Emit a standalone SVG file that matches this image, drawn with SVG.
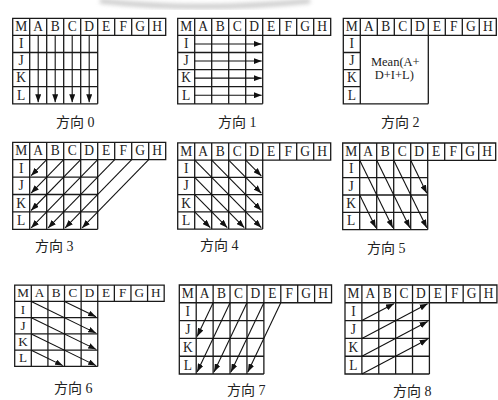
<svg xmlns="http://www.w3.org/2000/svg" xmlns:xlink="http://www.w3.org/1999/xlink" width="498" height="400" viewBox="0 0 498 400">
<style>
.grid{fill:none;stroke:#1a1a1a;stroke-width:1.3}
.lbl{font-family:"Liberation Serif","Noto Sans CJK SC",serif;font-size:13.5px;fill:#222;text-anchor:middle}
.cap{font-family:"Liberation Serif","Noto Sans CJK SC",serif;font-size:14px;fill:#222}
.mean{font-family:"Liberation Serif",serif;font-size:12.5px;fill:#222;text-anchor:middle}
.arr{fill:none;stroke:#111;stroke-width:1.1;marker-end:url(#ah)}
</style>
<defs>
<marker id="ah" viewBox="0 0 8 6" refX="8" refY="3" markerWidth="8" markerHeight="6" markerUnits="userSpaceOnUse" orient="auto">
<path d="M0,0L8,3L0,6Z" fill="#111"/>
</marker>
<filter id="blur" x="-20%" y="-50%" width="140%" height="200%"><feGaussianBlur stdDeviation="2"/></filter>
<path id="frame" d="M0,0H153V17H0Z M17,0V85 M34,0V17 M51,0V17 M68,0V17 M85,0V85 M102,0V17 M119,0V17 M136,0V17 M0,17V85H85 M0,34H17 M0,51H17 M0,68H17"/>
<path id="inner" d="M34,17V85 M51,17V85 M68,17V85 M17,34H85 M17,51H85 M17,68H85"/>
</defs>
<rect width="498" height="400" fill="#fff"/>
<path d="M100,1 Q200,12 310,1" fill="none" stroke="#aaa" stroke-width="5" opacity="0.6" filter="url(#blur)"/>

<g id="mode0">
<g transform="translate(12.7,18.3) scale(1,1.006)">
<use href="#frame" class="grid"/><use href="#inner" class="grid"/>
<text class="lbl" x="8.5 25.5 42.5 59.5 76.5 93.5 110.5 127.5 144.5" y="12.8">MABCDEFGH</text>
<text class="lbl" x="8.5 8.5 8.5 8.5" y="29.8 46.8 63.8 80.8">IJKL</text>
<g class="connectors">
<path class="arr" d="M25.5,17V83.5"/><path class="arr" d="M42.5,17V83.5"/><path class="arr" d="M59.5,17V83.5"/><path class="arr" d="M76.5,17V83.5"/>
</g>
</g>
<text class="cap" x="56" y="127">方向 0</text>
</g>

<g id="mode1">
<g transform="translate(177.7,18.3) scale(1,1.006)">
<use href="#frame" class="grid"/><use href="#inner" class="grid"/>
<text class="lbl" x="8.5 25.5 42.5 59.5 76.5 93.5 110.5 127.5 144.5" y="12.8">MABCDEFGH</text>
<text class="lbl" x="8.5 8.5 8.5 8.5" y="29.8 46.8 63.8 80.8">IJKL</text>
<g class="connectors">
<path class="arr" d="M17,25.5H84"/><path class="arr" d="M17,42.5H84"/><path class="arr" d="M17,59.5H84"/><path class="arr" d="M17,76.5H84"/>
</g>
</g>
<text class="cap" x="218" y="127">方向 1</text>
</g>

<g id="mode2">
<g transform="translate(343.3,18.3) scale(1,1.006)">
<use href="#frame" class="grid"/>
<text class="lbl" x="8.5 25.5 42.5 59.5 76.5 93.5 110.5 127.5 144.5" y="12.8">MABCDEFGH</text>
<text class="lbl" x="8.5 8.5 8.5 8.5" y="29.8 46.8 63.8 80.8">IJKL</text>
<text class="mean" x="52" y="47.5">Mean(A+</text>
<text class="mean" x="51" y="60">D+I+L)</text>
</g>
<text class="cap" x="381" y="127">方向 2</text>
</g>

<g id="mode3">
<g transform="translate(12.7,142.3) scale(1,1.024)">
<use href="#frame" class="grid"/><use href="#inner" class="grid"/>
<text class="lbl" x="8.5 25.5 42.5 59.5 76.5 93.5 110.5 127.5 144.5" y="12.8">MABCDEFGH</text>
<text class="lbl" x="8.5 8.5 8.5 8.5" y="29.8 46.8 63.8 80.8">IJKL</text>
<g class="connectors">
<path class="arr" d="M34,17L18.4,32.6"/>
<path class="arr" d="M51,17L18.4,49.6"/>
<path class="arr" d="M68,17L18.4,66.6"/>
<path class="arr" d="M85,17L18.4,83.6"/>
<path class="arr" d="M102,17L35.4,83.6"/>
<path class="arr" d="M119,17L52.4,83.6"/>
<path class="arr" d="M136,17L69.4,83.6"/>
</g>
</g>
<text class="cap" x="35" y="251">方向 3</text>
</g>

<g id="mode4">
<g transform="translate(177.7,142.8) scale(1,1.015)">
<use href="#frame" class="grid"/><use href="#inner" class="grid"/>
<text class="lbl" x="8.5 25.5 42.5 59.5 76.5 93.5 110.5 127.5 144.5" y="12.8">MABCDEFGH</text>
<text class="lbl" x="8.5 8.5 8.5 8.5" y="29.8 46.8 63.8 80.8">IJKL</text>
<g class="connectors">
<path class="arr" d="M17,17L83.6,83.6"/>
<path class="arr" d="M34,17L83.6,66.6"/>
<path class="arr" d="M51,17L83.6,49.6"/>
<path class="arr" d="M68,17L83.6,32.6"/>
<path class="arr" d="M17,34L66.6,83.6"/>
<path class="arr" d="M17,51L49.6,83.6"/>
<path class="arr" d="M17,68L32.6,83.6"/>
</g>
</g>
<text class="cap" x="200" y="250">方向 4</text>
</g>

<g id="mode5">
<g transform="translate(342.7,143) scale(1,1.02)">
<use href="#frame" class="grid"/><use href="#inner" class="grid"/>
<text class="lbl" x="8.5 25.5 42.5 59.5 76.5 93.5 110.5 127.5 144.5" y="12.8">MABCDEFGH</text>
<text class="lbl" x="8.5 8.5 8.5 8.5" y="29.8 46.8 63.8 80.8">IJKL</text>
<g class="connectors">
<path class="arr" d="M17,17L50.1,83.2"/>
<path class="arr" d="M34,17L67.1,83.2"/>
<path class="arr" d="M51,17L84.1,83.2"/>
<path class="arr" d="M68,17L84.1,49.2"/>
<path class="arr" d="M17,51L33.1,83.2"/>
</g>
</g>
<text class="cap" x="367" y="253">方向 5</text>
</g>

<g id="mode6">
<g transform="translate(14.7,285.2) scale(0.977,0.956)">
<use href="#frame" class="grid"/><use href="#inner" class="grid"/>
<text class="lbl" x="8.5 25.5 42.5 59.5 76.5 93.5 110.5 127.5 144.5" y="12.8">MABCDEFGH</text>
<text class="lbl" x="8.5 8.5 8.5 8.5" y="29.8 46.8 63.8 80.8">IJKL</text>
<g class="connectors">
<path class="arr" d="M17,17L83.2,50.1"/>
<path class="arr" d="M17,34L83.2,67.1"/>
<path class="arr" d="M17,51L83.2,84.1"/>
<path class="arr" d="M17,68L49.2,84.1"/>
<path class="arr" d="M51,17L83.2,33.1"/>
</g>
</g>
<text class="cap" x="54" y="393">方向 6</text>
</g>

<g id="mode7">
<g transform="translate(179.3,285) scale(0.995,1.047)">
<use href="#frame" class="grid"/><use href="#inner" class="grid"/>
<text class="lbl" x="8.5 25.5 42.5 59.5 76.5 93.5 110.5 127.5 144.5" y="12.8">MABCDEFGH</text>
<text class="lbl" x="8.5 8.5 8.5 8.5" y="29.8 46.8 63.8 80.8">IJKL</text>
<g class="connectors">
<path class="arr" d="M34,17L17.9,49.2"/>
<path class="arr" d="M51,17L17.9,83.2"/>
<path class="arr" d="M68,17L34.9,83.2"/>
<path class="arr" d="M85,17L51.9,83.2"/>
<path class="arr" d="M102,17L68.9,83.2"/>
</g>
</g>
<text class="cap" x="227" y="395">方向 7</text>
</g>

<g id="mode8">
<g transform="translate(345,285) scale(0.993,1.047)">
<use href="#frame" class="grid"/><use href="#inner" class="grid"/>
<text class="lbl" x="8.5 25.5 42.5 59.5 76.5 93.5 110.5 127.5 144.5" y="12.8">MABCDEFGH</text>
<text class="lbl" x="8.5 8.5 8.5 8.5" y="29.8 46.8 63.8 80.8">IJKL</text>
<g class="connectors">
<path class="arr" d="M17,34L49.2,17.9"/>
<path class="arr" d="M17,51L83.2,17.9"/>
<path class="arr" d="M17,68L83.2,34.9"/>
<path class="arr" d="M17,85L83.2,51.9"/>
</g>
</g>
<text class="cap" x="393" y="396">方向 8</text>
</g>
</svg>
